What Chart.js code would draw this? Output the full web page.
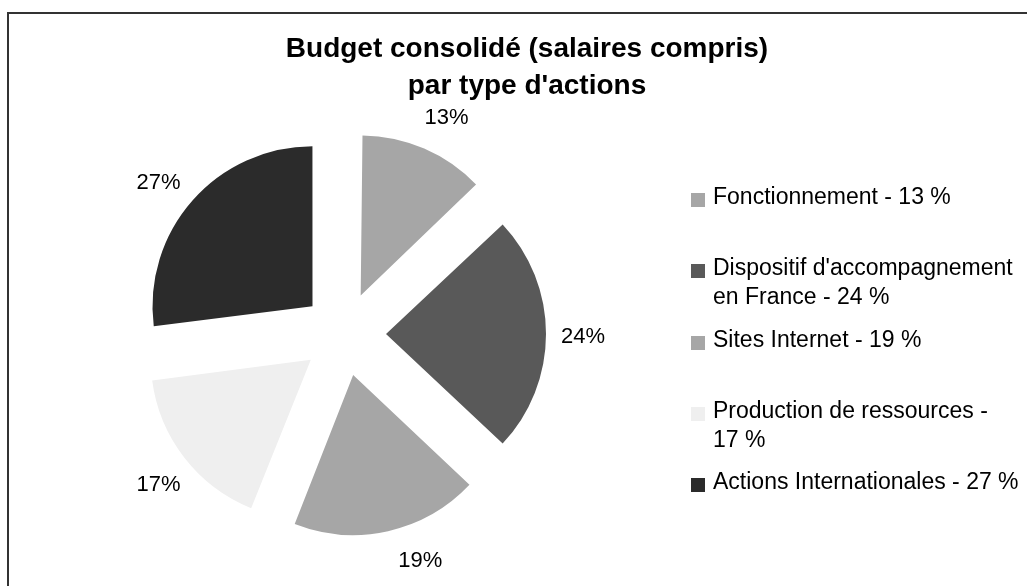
<!DOCTYPE html>
<html lang="fr">
<head>
<meta charset="utf-8">
<title>Budget consolidé par type d'actions</title>
<script src="https://cdn.jsdelivr.net/npm/chart.js@4.4.0/dist/chart.umd.min.js"></script>
<style>
  body { margin: 0; background: #fff; font-family: "Liberation Sans", Arial, sans-serif; color: #000; }
  #wrap { position: relative; width: 1027px; height: 586px; overflow: hidden; }
  #frame { position: absolute; left: 7px; top: 12px; width: 1100px; height: 700px;
           border-left: 2px solid #333; border-top: 2px solid #333; }
  #chartBox { position: absolute; left: 0; top: 0; width: 1027px; height: 586px; }
  #title { position: absolute; left: 527px; top: 29px; transform: translateX(-50%);
           white-space: nowrap; text-align: center; font-weight: bold; font-size: 28px; line-height: 37px; }
  #legend { position: absolute; left: 691px; top: 182px; width: 336px; }
  .item { position: relative; height: 71.3px; padding-left: 22px; width: 312px;
          font-size: 23px; line-height: 29px; }
  .item .box { position: absolute; left: 0; top: 11px; width: 14px; height: 14px; }
</style>
</head>
<body>
<div id="wrap">
  <div id="frame"></div>
  <div id="chartBox"><canvas id="budgetPie"></canvas></div>
  <div id="title"></div>
  <div id="legend"></div>
</div>
<script>
const titleLines = ["Budget consolidé (salaires compris)", "par type d'actions"];
const categories = [
  "Fonctionnement",
  "Dispositif d'accompagnement en France",
  "Sites Internet",
  "Production de ressources",
  "Actions Internationales",
];
const shares = [13, 24, 19, 17, 27];

const sliceColors = ["#a6a6a6", "#595959", "#a6a6a6", "#efefef", "#2b2b2b"];
const EXPLODE = 42; // pixels each slice is pulled out
// small angle tweaks (degrees) so the labels sit where Excel put them
const labelNudge = [2, 0.7, -6, -1.3, -2.3];

document.getElementById("title").innerHTML = titleLines.join("<br>");

// HTML legend, same order as the slices
const legendEl = document.getElementById("legend");
categories.forEach((cat, i) => {
  const item = document.createElement("div");
  item.className = "item";
  const box = document.createElement("span");
  box.className = "box";
  box.style.background = sliceColors[i];
  item.appendChild(box);
  item.appendChild(document.createTextNode(`${cat} - ${shares[i]}\u00a0%`));
  legendEl.appendChild(item);
});

// Chart.js grows small exploded slices a little; take that back out
const explodeFix = {
  id: "explodeFix",
  afterDatasetUpdate(chart, args) {
    args.meta.data.forEach((arc) => {
      const off = (arc.options.offset || 0) / 4;
      const fix = 1 - Math.sin(Math.min(Math.PI, arc.circumference));
      arc.outerRadius -= off * fix;
    });
  },
};

// percentage labels outside each slice
const pctLabels = {
  id: "pctLabels",
  afterDatasetsDraw(chart) {
    const meta = chart.getDatasetMeta(0);
    const radius = meta.controller.outerRadius;
    const ctx = chart.ctx;
    ctx.save();
    ctx.font = "22px 'Liberation Sans', Arial, sans-serif";
    ctx.fillStyle = "#000";
    ctx.textAlign = "center";
    ctx.textBaseline = "middle";
    meta.data.forEach((arc, i) => {
      const mid = (arc.startAngle + arc.endAngle) / 2 + (labelNudge[i] * Math.PI) / 180;
      const dist = radius + arc.options.offset / 4 + 37;
      ctx.fillText(shares[i] + "%", arc.x + Math.cos(mid) * dist, arc.y + Math.sin(mid) * dist);
    });
    ctx.restore();
  },
};

new Chart(document.getElementById("budgetPie").getContext("2d"), {
  type: "pie",
  data: {
    labels: categories,
    datasets: [
      {
        data: shares,
        backgroundColor: sliceColors,
        borderWidth: 0,
        offset: EXPLODE * 4,
      },
    ],
  },
  options: {
    responsive: true,
    maintainAspectRatio: false,
    animation: false,
    events: [],
    radius: 160,
    layout: {
      padding: { left: 100, right: 439, top: 100, bottom: 18 },
    },
    plugins: {
      legend: { display: false },
      tooltip: { enabled: false },
    },
  },
  plugins: [explodeFix, pctLabels],
});
</script>
</body>
</html>
